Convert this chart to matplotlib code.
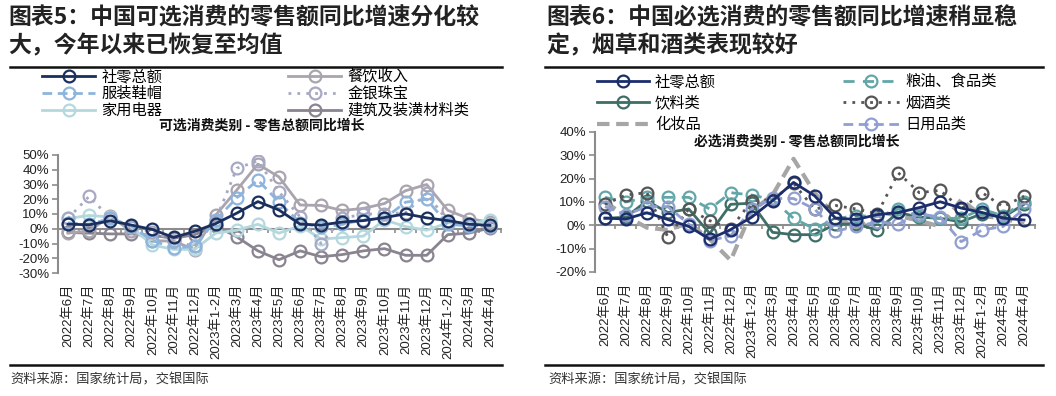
import numpy as np
import matplotlib
matplotlib.use("Agg")
import matplotlib.pyplot as plt
from matplotlib.lines import Line2D
from matplotlib.ticker import FuncFormatter

plt.rcParams['font.family'] = ['Liberation Sans', 'Noto Sans CJK SC']
plt.rcParams['axes.unicode_minus'] = False

# ---- data (同比增速, %) ----
months = ['2022年6月', '2022年7月', '2022年8月', '2022年9月', '2022年10月', '2022年11月',
          '2022年12月', '2023年1-2月', '2023年3月', '2023年4月', '2023年5月', '2023年6月',
          '2023年7月', '2023年8月', '2023年9月', '2023年10月', '2023年11月', '2023年12月',
          '2024年1-2月', '2024年3月', '2024年4月']

retail_total = [3.1, 2.7, 5.4, 2.5, -0.5, -5.9, -1.8, 3.5, 10.6, 18.4, 12.7, 3.1,
                2.5, 4.6, 5.5, 7.6, 10.1, 7.4, 5.5, 3.1, 2.3]

# 可选消费
catering = [-3, -1.5, 8.4, -1.7, -8.1, -8.4, -14.1, 9.2, 26.3, 43.8, 35.1, 16.1,
            15.8, 12.4, 13.8, 17.1, 25.8, 30.0, 12.5, 6.9, 4.4]
clothing = [4, 3, 7, 2, -8, -13, -12, 6, 21, 33, 18, 4, 1, 3, 6, 7, 18, 20, 3, 2, 2]
jewelry = [7, 22, 7, 1, -2, -8, -12, 6, 41, 46, 25, 8, -10, 7, 10, 10, 11, 24, 5, 3, 1]
appliances = [7, 9, 8, 1, -11, -14, -14, -3, -1, 3, -3, 2, -7, -6, -5, 6, 1.5, -1, 4, 3, 6]
building = [-2.5, -3, -3.5, -3.5, -4.5, -6.5, -4, 2, -5.5, -15, -21, -15, -19, -17.5,
            -15, -13.5, -18, -18, -4, -3, 0.5]

# 必选消费
grain_food = [12, 10, 12, 12, 12, 7, 14, 13, 11, 3, -1.5, 3, 4, 4, 7, 4, 3, 3, 7, 4, 10]
beverages = [3, 3.5, 10.5, 5.5, 7, -3.5, 9, 9.5, -3, -4, -4, 0.5, 0.5, -2, 5.5, 3.5,
             3, 1.5, 5, 3.5, 9]
tobacco_liquor = [9, 13, 14, -5, 7, 2, -1.5, 10.5, 11, 18, 7, 8.5, 7, 5, 22.5, 14, 15,
                  7, 14, 8, 12.5]
cosmetics = [10, 4, -1, -2, 1, -6, -15, 6, 13, 28.5, 14, 4, -1.5, 6, 4, 2, -0.5, 11,
             4, 3, 0.5]
daily_use = [8, 4.5, 8, 8, 0.5, -6.5, -4.5, 7, 11.5, 11.5, 7, -2.5, -0.5, 1.5, 0.5,
             5, 3.5, -7, -2, -0.5, 7]

x = np.arange(len(months))
AX_GRAY = '#8c8c8c'
CJK = ['Noto Sans CJK SC', 'DejaVu Sans']

fig = plt.figure(figsize=(10.56, 3.96), dpi=100)


def px(xp, yp):
    # pixel -> figure fraction
    return xp / 1056, 1 - yp / 396


def setup_axes(ax, ylo, yhi):
    ax.set_xlim(-0.5, len(months) - 0.5)
    ax.set_ylim(ylo, yhi)
    ax.set_yticks(np.arange(ylo, yhi + 1, 10))
    ax.yaxis.set_major_formatter(FuncFormatter(lambda v, p: f'{v:.0f}%'))
    for s in ['top', 'right', 'bottom']:
        ax.spines[s].set_visible(False)
    ax.spines['left'].set_color(AX_GRAY)
    ax.spines['left'].set_linewidth(1.5)
    ax.tick_params(axis='y', direction='out', length=4, width=1.2, color=AX_GRAY,
                   labelsize=9.5, labelcolor='#222222', pad=2)
    ax.set_xticks(x)
    ax.set_xticklabels(months, rotation=90, fontsize=9.5, color='#222222')
    ax.tick_params(axis='x', length=0, pad=8)
    # 0% 轴线 (带分类刻度)
    sec = ax.secondary_xaxis((0 - ylo) / (yhi - ylo))
    sec.set_xticks(np.arange(-0.5, len(months), 1))
    sec.set_xticklabels([])
    sec.tick_params(length=3, width=1.2, color=AX_GRAY, direction='out')
    for sp in sec.spines.values():
        sp.set_color(AX_GRAY)
        sp.set_linewidth(1.5)
    ax.patch.set_alpha(0)


def series(ax, y, color, ls='-', lw=2.0, marker='o', z=3):
    return ax.plot(x, y, color=color, ls=ls, lw=lw, marker=marker, ms=8.5,
                   mfc='none', mec=color, mew=1.6, zorder=z)[0]


# ---------------- 左图 ----------------
l0, b0 = px(57.5, 273)
l1, b1 = px(500.5, 155)
axl = fig.add_axes([l0, b0, l1 - l0, b1 - b0])
setup_axes(axl, -30, 50)

h_build = series(axl, building, '#8a8390')
h_cat = series(axl, catering, '#a9a4ae')
h_app = series(axl, appliances, '#b4d8dd')
h_jew = series(axl, jewelry, '#a7a9c4', ls=(0, (1, 2.2)))
h_clo = series(axl, clothing, '#8db4dc', ls=(0, (3.5, 2)))
h_tot = series(axl, retail_total, '#1a2f5e', z=5)

leg_kw = dict(frameon=False, loc='upper left', borderaxespad=0, borderpad=0,
              handletextpad=0.4, prop={'family': CJK, 'size': 11})
fig.legend([h_tot, h_clo, h_app], ['社零总额', '服装鞋帽', '家用电器'],
           bbox_to_anchor=px(42, 68), handlelength=3.5, labelspacing=0.0, **leg_kw)
fig.legend([h_cat, h_jew, h_build], ['餐饮收入', '金银珠宝', '建筑及装潢材料类'],
           bbox_to_anchor=px(288, 68), handlelength=3.5, labelspacing=0.0, **leg_kw)

fig.text(*px(262, 126), '可选消费类别 - 零售总额同比增长', ha='center', va='center',
         fontsize=10, fontweight='bold', family=CJK, color='#111111')

# ---------------- 右图 ----------------
r0, c0 = px(594.5, 272)
r1, c1 = px(1034.5, 132)
axr = fig.add_axes([r0, c0, r1 - r0, c1 - c0])
setup_axes(axr, -20, 40)

h_cos = axr.plot(x, cosmetics, color='#a6a6a6', ls=(0, (3, 1.6)), lw=3.0, zorder=2)[0]
h_bev = series(axr, beverages, '#3f6d67')
h_grain = series(axr, grain_food, '#62a6a8', ls=(0, (4, 3)))
h_tob = series(axr, tobacco_liquor, '#555555', ls=(0, (1, 2.2)))
h_daily = series(axr, daily_use, '#909fd0', ls=(0, (3.5, 2)))
h_tot2 = series(axr, retail_total, '#1b2d6b', z=5)

leg_kw2 = dict(leg_kw)
leg_kw2['prop'] = {'family': CJK, 'size': 11}
fig.legend([h_tot2, h_bev, h_cos], ['社零总额', '饮料类', '化妆品'],
           bbox_to_anchor=px(597, 73), handlelength=3.4, labelspacing=0.3, **leg_kw2)
fig.legend([h_grain, h_tob, h_daily], ['粮油、食品类', '烟酒类', '日用品类'],
           bbox_to_anchor=px(843, 73), handlelength=3.7, labelspacing=0.3, **leg_kw2)

fig.text(*px(797, 142), '必选消费类别 - 零售总额同比增长', ha='center', va='center',
         fontsize=10, fontweight='bold', family=CJK, color='#111111')

# ---------------- 标题、分隔线、来源 ----------------
title_kw = dict(fontsize=16.5, fontweight='bold', family=CJK, color='#222222',
                ha='left', va='center')
fig.text(*px(8, 18), '图表5：中国可选消费的零售额同比增速分化较', **title_kw)
fig.text(*px(8, 46), '大，今年以来已恢复至均值', **title_kw)
fig.text(*px(546, 18), '图表6：中国必选消费的零售额同比增速稍显稳', **title_kw)
fig.text(*px(546, 46), '定，烟草和酒类表现较好', **title_kw)

for xa, xb in [(10, 502), (545, 1043)]:
    for yy in (67, 365):
        fig.add_artist(Line2D([xa / 1056, xb / 1056], [1 - yy / 396] * 2,
                              color='#111111', lw=1.8))

src_kw = dict(fontsize=9.5, family=CJK, color='#333333', ha='left', va='center')
fig.text(*px(10, 380), '资料来源：国家统计局，交银国际', **src_kw)
fig.text(*px(548, 380), '资料来源：国家统计局，交银国际', **src_kw)

fig.savefig('out.png', dpi=100)
